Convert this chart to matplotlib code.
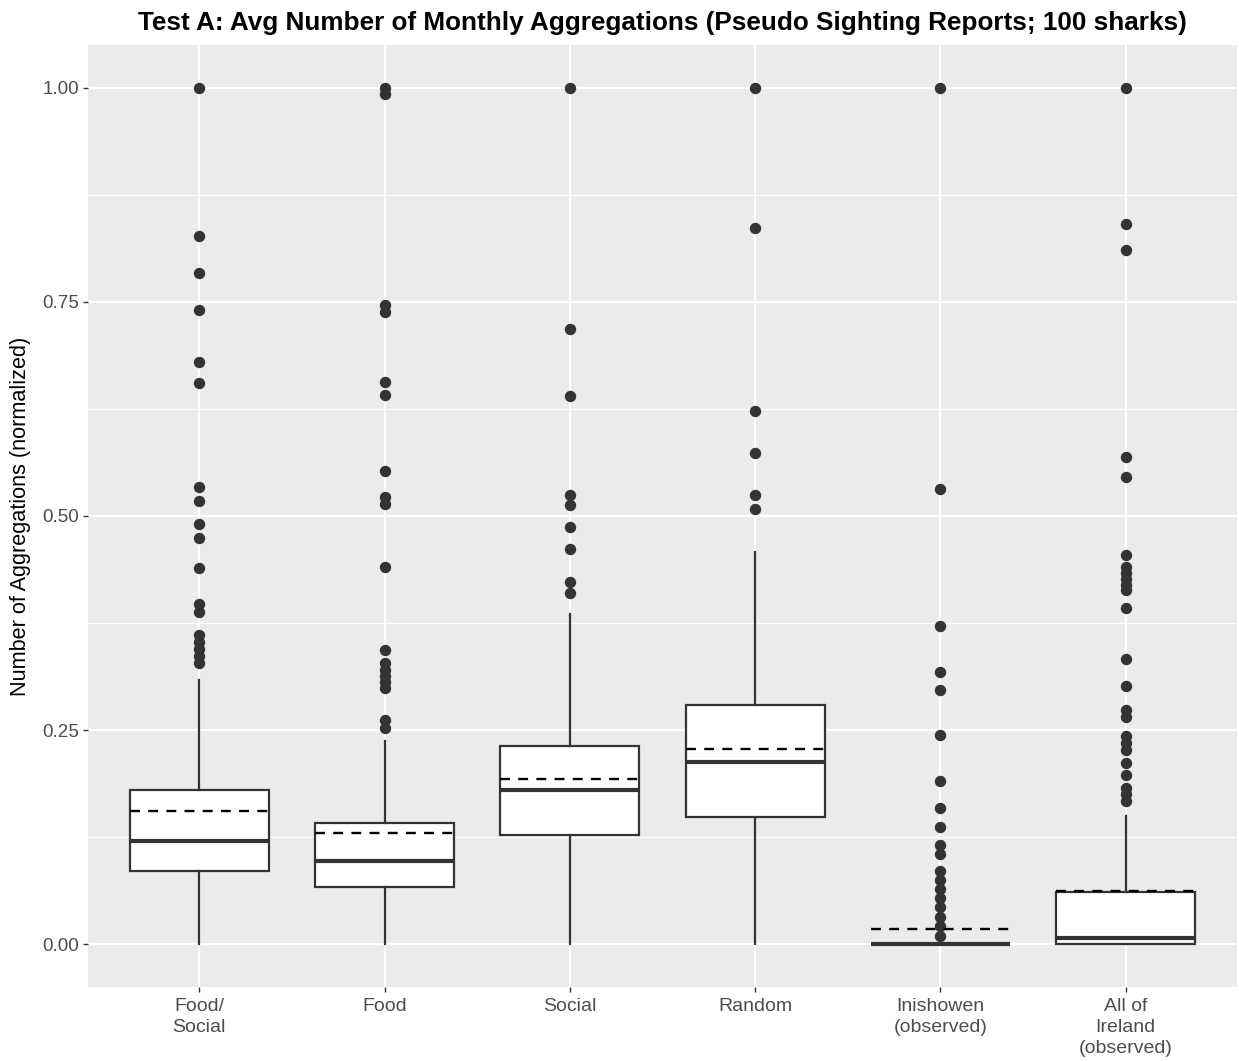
import matplotlib
matplotlib.use("Agg")
import matplotlib.pyplot as plt
import numpy as np

plt.rcParams['font.family'] = ['Liberation Sans', 'DejaVu Sans']

categories = ["Food/\nSocial", "Food", "Social", "Random", "Inishowen\n(observed)", "All of\nIreland\n(observed)"]
whisker_low = [0.0, 0.0, 0.0, 0.0, 0.0, 0.0]
q1 = [0.086, 0.067, 0.128, 0.148, 0.0, 0.0]
median = [0.120, 0.097, 0.180, 0.213, 0.0, 0.007]
q3 = [0.180, 0.141, 0.231, 0.279, 0.0, 0.061]
whisker_high = [0.309, 0.237, 0.385, 0.458, 0.0, 0.150]
means = [0.156, 0.130, 0.193, 0.228, 0.018, 0.062]

outliers_food_social = [1.00, 0.827, 0.784, 0.741, 0.680, 0.655, 0.534, 0.517, 0.491, 0.474,
                        0.439, 0.397, 0.388, 0.361, 0.353, 0.345, 0.337, 0.328]
outliers_food = [1.00, 0.993, 0.746, 0.738, 0.656, 0.641, 0.552, 0.522, 0.514, 0.440,
                 0.343, 0.328, 0.320, 0.313, 0.306, 0.299, 0.262, 0.253]
outliers_social = [1.00, 0.718, 0.640, 0.525, 0.513, 0.487, 0.461, 0.423, 0.410]
outliers_random = [1.00, 0.836, 0.623, 0.573, 0.524, 0.508]
outliers_inishowen = [1.00, 0.531, 0.372, 0.318, 0.297, 0.244, 0.190, 0.159, 0.137, 0.116,
                      0.105, 0.085, 0.075, 0.065, 0.054, 0.043, 0.032, 0.021, 0.010]
outliers_ireland = [1.00, 0.841, 0.811, 0.569, 0.546, 0.454, 0.440, 0.433, 0.427, 0.420,
                    0.414, 0.393, 0.333, 0.302, 0.274, 0.265, 0.243, 0.235, 0.227, 0.212,
                    0.197, 0.182, 0.175, 0.167]
outliers = [outliers_food_social, outliers_food, outliers_social, outliers_random,
            outliers_inishowen, outliers_ireland]

yticks = [0.00, 0.25, 0.50, 0.75, 1.00]
ytick_labels = ["0.00", "0.25", "0.50", "0.75", "1.00"]
minor_ticks = [0.125, 0.375, 0.625, 0.875]

title = "Test A: Avg Number of Monthly Aggregations (Pseudo Sighting Reports; 100 sharks)"
ylabel = "Number of Aggregations (normalized)"

W, H = 1239, 1061
fig = plt.figure(figsize=(W / 100, H / 100), dpi=100)
ax = fig.add_axes([88 / W, (H - 987) / H, (1237 - 88) / W, (987 - 45) / H])

dark = "#333333"
positions = np.arange(1, len(categories) + 1)
box_w = 0.75

ax.set_facecolor("#EBEBEB")
for s in ax.spines.values():
    s.set_visible(False)

stats = []
for i in range(len(categories)):
    stats.append(dict(whislo=whisker_low[i], q1=q1[i], med=median[i], q3=q3[i],
                      whishi=whisker_high[i], fliers=outliers[i], label=categories[i]))

ax.bxp(stats, positions=positions, widths=box_w, patch_artist=True, showcaps=False,
       boxprops=dict(facecolor="white", edgecolor=dark, linewidth=1.6),
       whiskerprops=dict(color=dark, linewidth=1.6),
       medianprops=dict(color=dark, linewidth=3.0, solid_capstyle="butt"),
       flierprops=dict(marker="o", markerfacecolor=dark, markeredgecolor=dark,
                       markersize=7.2, linestyle="none"),
       zorder=3)

ax.hlines(means, positions - box_w / 2, positions + box_w / 2, colors="black",
          linestyles=(0, (4.2, 3.5)), linewidth=1.7, zorder=4)

ax.set_xlim(0.4, len(categories) + 0.6)
ax.set_ylim(-0.05, 1.05)
ax.set_yticks(yticks)
ax.set_yticklabels(ytick_labels)
ax.set_yticks(minor_ticks, minor=True)
ax.set_xticks(positions)
ax.set_xticklabels(categories, linespacing=1.32, fontsize=14)

ax.grid(which="major", color="white", linewidth=1.6, zorder=0)
ax.grid(which="minor", axis="y", color="white", linewidth=0.8, zorder=0)
ax.set_axisbelow(True)

ax.tick_params(axis="both", which="major", length=3.5, width=1.0, color=dark,
               labelcolor="#4D4D4D", pad=3)
ax.tick_params(axis="x", which="major", pad=4.5)
ax.tick_params(axis="y", which="major", labelsize=13.6)
ax.tick_params(axis="y", which="minor", length=0)

ax.set_ylabel(ylabel, fontsize=15.6, color="black", labelpad=8)
fig.text((88 + 1237) / 2 / W, 1 - 23 / H, title, ha="center", va="center",
         fontsize=18.8, fontweight="bold")

fig.savefig("out.png", dpi=100)
